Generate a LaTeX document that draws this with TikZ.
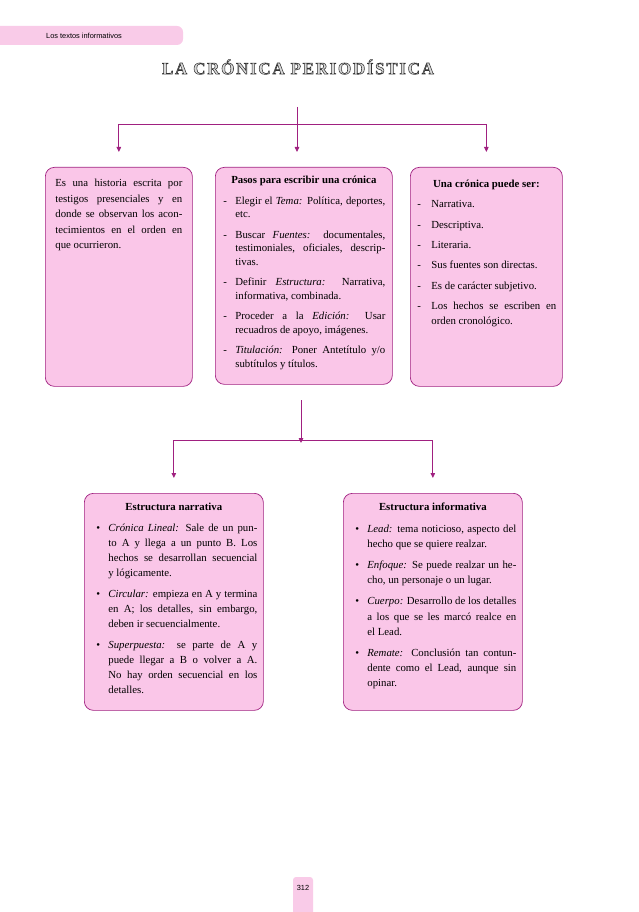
\documentclass[tikz,border=0pt]{standalone}
\usepackage{fontspec}
\setmainfont{Liberation Serif}
\setsansfont{Liberation Sans}
\usetikzlibrary{arrows.meta}

\definecolor{rosa}{RGB}{250,198,232}
\definecolor{rosatab}{RGB}{249,203,232}
\definecolor{morado}{RGB}{160,32,128}

\newlength{\sangria}
\newlength{\sepitem}
\newcommand{\guion}[1]{\par\vspace{\sepitem}\hangindent=\sangria\hangafter=1\noindent\makebox[\sangria][l]{-}#1\par}
\newcommand{\punto}[1]{\par\vspace{\sepitem}\hangindent=\sangria\hangafter=1\noindent\makebox[\sangria][l]{\textbullet}#1\par}
\newcommand{\grabado}[1]{\special{pdf:literal direct 2 Tr 0.55 w 0.2 0.2 0.2 RG 0.85 0.85 0.85 rg}#1\special{pdf:literal direct 0 Tr 0 0 0 RG 0 0 0 rg}}

\begin{document}
\begin{tikzpicture}[x=1pt, y=-1pt]
  % Estilos
  \tikzset{
    caja/.style={draw=morado, fill=rosa, line width=0.7pt, rounded corners=9pt,
      inner xsep=7pt, inner ysep=6pt, anchor=north west},
    linea/.style={draw=morado, line width=0.8pt},
    flecha/.style={linea, -{Triangle[length=5pt, width=4.5pt]}},
    pestana/.style={fill=rosatab},
  }

  \useasboundingbox (0,0) rectangle (638,912);

  % Cabecera
  \fill[pestana, rounded corners=6pt] (-12,26) rectangle (183,45);
  \node[font=\sffamily\fontsize{7.4}{8}\selectfont] (cabecera) at (84,36) {Los textos informativos};

  % Titulo
  \node[font=\bfseries\fontsize{17}{17}\selectfont] (titulo) at (298,67)
    {\addfontfeatures{LetterSpace=10}\grabado{LA CRÓNICA PERIODÍSTICA}};

  % Primera fila
  \node[caja, inner xsep=10pt] (defin) at (45,167) {\parbox[t][207pt][t]{127pt}{%
    \fontsize{10.8}{15.5}\selectfont
    \vspace*{6pt}
    Es una historia escrita por\linebreak testigos presenciales y en\linebreak
    donde se observan los acon-\linebreak tecimientos en el orden en\linebreak
    que ocurrieron.}};

  \node[caja] (pasos) at (215,167) {\parbox[t][205pt][t]{163pt}{%
    \fontsize{10.8}{13.6}\selectfont
    \vspace*{3pt}
    {\centering\textbf{Pasos para escribir una crónica}\par}
    \setlength{\sangria}{12pt}\setlength{\sepitem}{6.8pt}\setlength{\leftskip}{1pt}
    \guion{Elegir el \textit{Tema:} Política, deportes,\linebreak etc.}
    \guion{Buscar \textit{Fuentes:} documentales,\linebreak testimoniales, oficiales, descrip-\linebreak tivas.}
    \guion{Definir \textit{Estructura:} Narrativa,\linebreak informativa, combinada.}
    \guion{Proceder a la \textit{Edición:} Usar\linebreak recuadros de apoyo, imágenes.}
    \guion{\textit{Titulación:} Poner Antetítulo y/o\linebreak subtítulos y títulos.}}};

  \node[caja, inner xsep=6pt] (tipos) at (410,167) {\parbox[t][207pt][t]{140pt}{%
    \fontsize{10.8}{15}\selectfont
    \vspace*{6.5pt}
    {\centering\textbf{Una crónica puede ser:}\par}
    \setlength{\sangria}{14pt}\setlength{\sepitem}{5.4pt}\setlength{\leftskip}{1pt}
    \guion{Narrativa.}
    \guion{Descriptiva.}
    \guion{Literaria.}
    \guion{Sus fuentes son directas.}
    \guion{Es de carácter subjetivo.}
    \guion{Los hechos se escriben en\linebreak orden cronológico.}}};

  % Segunda fila
  \node[caja, inner xsep=6pt] (narr) at (84,493) {\parbox[t][205pt][t]{167pt}{%
    \fontsize{10.8}{15}\selectfont
    \vspace*{4pt}
    {\centering\textbf{Estructura narrativa}\par}
    \setlength{\sangria}{12pt}\setlength{\sepitem}{6pt}\setlength{\leftskip}{6pt}
    \punto{\textit{Crónica Lineal:} Sale de un pun-\linebreak to A y llega a un punto B. Los\linebreak
      hechos se desarrollan secuencial\linebreak y lógicamente.}
    \punto{\textit{Circular:} empieza en A y termina\linebreak en A; los detalles, sin embargo,\linebreak
      deben ir secuencialmente.}
    \punto{\textit{Superpuesta:} se parte de A y\linebreak puede llegar a B o volver a A.\linebreak
      No hay orden secuencial en los\linebreak detalles.}}};

  \node[caja, inner xsep=6pt] (info) at (343,493) {\parbox[t][205pt][t]{167pt}{%
    \fontsize{10.8}{15.2}\selectfont
    \vspace*{4pt}
    {\centering\textbf{Estructura informativa}\par}
    \setlength{\sangria}{12pt}\setlength{\sepitem}{6pt}\setlength{\leftskip}{6pt}
    \punto{\textit{Lead:} tema noticioso, aspecto del\linebreak hecho que se quiere realzar.}
    \punto{\textit{Enfoque:} Se puede realzar un he-\linebreak cho, un personaje o un lugar.}
    \punto{\textit{Cuerpo:} Desarrollo de los detalles\linebreak a los que se les marcó realce en\linebreak el Lead.}
    \punto{\textit{Remate:} Conclusión tan contun-\linebreak dente como el Lead, aunque sin\linebreak opinar.}}};

  % Conectores superiores
  \coordinate (t0) at (297,107);
  \coordinate (t1) at (297,124);
  \draw[linea] (t0) -- (t1);
  \draw[linea] (defin.north |- t1) -- (tipos.north |- t1);
  \foreach \c in {defin,tipos}
    \draw[flecha] (\c.north |- t1) -- ([yshift=15pt]\c.north);
  \draw[flecha] (t1) -- ([yshift=15pt]pasos.north -| t1);

  % Conectores inferiores
  \coordinate (s0) at (301,400);
  \coordinate (s1) at (301,440);
  \draw[flecha] (s0) -- ([yshift=-3pt]s1);
  \draw[linea] (narr.north |- s1) -- (info.north |- s1);
  \foreach \c in {narr,info}
    \draw[flecha] (\c.north |- s1) -- ([yshift=15pt]\c.north);

  % Numero de pagina
  \fill[pestana, rounded corners=3pt] (293,877) rectangle (313,925);
  \node[font=\sffamily\fontsize{7.4}{8}\selectfont] (pagina) at (303,888) {312};
\end{tikzpicture}
\end{document}
